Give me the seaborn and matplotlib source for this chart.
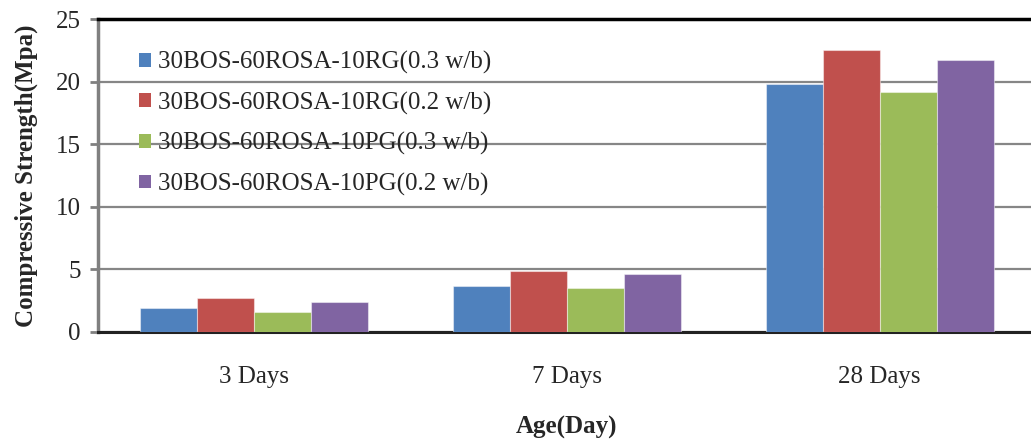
import numpy as np
import pandas as pd
import matplotlib
matplotlib.use("Agg")
import matplotlib.pyplot as plt
from matplotlib.patches import Patch
import seaborn as sns

ages = ["3 Days", "7 Days", "28 Days"]
series = [
    "30BOS-60ROSA-10RG(0.3 w/b)",
    "30BOS-60ROSA-10RG(0.2 w/b)",
    "30BOS-60ROSA-10PG(0.3 w/b)",
    "30BOS-60ROSA-10PG(0.2 w/b)",
]
rg_03 = [1.9, 3.65, 19.8]
rg_02 = [2.75, 4.85, 22.5]
pg_03 = [1.6, 3.5, 19.2]
pg_02 = [2.4, 4.65, 21.7]
colors = ["#4F81BD", "#C0504D", "#9BBB59", "#8064A2"]

rows = []
for name, vals in zip(series, [rg_03, rg_02, pg_03, pg_02]):
    for age, v in zip(ages, vals):
        rows.append({"Age": age, "Series": name, "Strength": v})
df = pd.DataFrame(rows)

sns.set_style("white")
plt.rcParams["font.family"] = ["Liberation Serif", "DejaVu Serif"]

fig = plt.figure(figsize=(10.31, 4.41), dpi=100)
ax = fig.add_axes([98 / 1031, (441 - 332) / 441, (1036 - 98) / 1031, (332 - 19) / 441])

sns.barplot(data=df, x="Age", y="Strength", hue="Series", order=ages,
            hue_order=series, palette=colors, width=0.73, gap=0,
            errorbar=None, ax=ax, legend=False, saturation=1,
            edgecolor=(1, 1, 1, 0.45), linewidth=0.8, zorder=3)

ax.set_ylim(0, 25)
ax.set_yticks([0, 5, 10, 15, 20, 25])
ax.set_xlim(-0.5, 2.5)
ax.yaxis.grid(True, color="#868686", linewidth=1.6, zorder=0)
ax.set_axisbelow(True)

for side in ["left", "bottom", "top", "right"]:
    ax.spines[side].set_visible(True)
ax.spines["left"].set_color("#808080")
ax.spines["left"].set_linewidth(2.5)
ax.spines["bottom"].set_color("#222222")
ax.spines["bottom"].set_linewidth(2.2)
ax.spines["top"].set_color("black")
ax.spines["top"].set_linewidth(2.5)
ax.spines["right"].set_visible(False)

ax.tick_params(axis="y", which="both", left=True, length=6, width=2,
               color="#808080", labelsize=18, pad=6.5)
ax.tick_params(axis="x", bottom=False, labelsize=18, pad=21)

ax.set_xlabel("Age(Day)", fontsize=18, fontweight="bold", labelpad=20)
ax.set_ylabel("Compressive Strength(Mpa)", fontsize=18, fontweight="bold", labelpad=13)

handles = [Patch(facecolor=c, edgecolor="none") for c in colors]
leg = ax.legend(handles, series, loc="upper left", bbox_to_anchor=(0.033, 0.93),
                frameon=False, fontsize=18, handlelength=0.48, handleheight=0.48,
                handletextpad=0.3, labelspacing=0.7, borderaxespad=0)

fig.savefig("out.png", dpi=100)
